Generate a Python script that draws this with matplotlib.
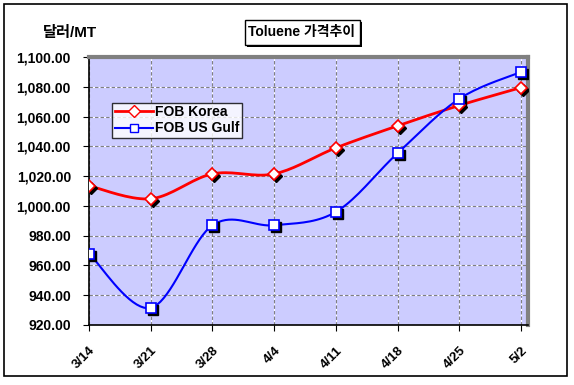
import numpy as np
import matplotlib.pyplot as plt
import matplotlib.transforms as mtransforms
from matplotlib.patches import Rectangle

plt.rcParams['font.family'] = ['Liberation Sans', 'Noto Sans CJK KR', 'DejaVu Sans']

dates = ['3/14', '3/21', '3/28', '4/4', '4/11', '4/18', '4/25', '5/2']
fob_korea = [1013.5, 1004.8, 1021.5, 1021.5, 1039.0, 1053.8, 1067.5, 1079.5]
fob_usgulf = [968.0, 931.5, 987.0, 987.0, 996.0, 1035.5, 1072.0, 1090.0]
yticks = [920, 940, 960, 980, 1000, 1020, 1040, 1060, 1080, 1100]


# smooth line like Excel's "smoothed line" option (Catmull-Rom through the data)
def smooth(xs, ys, n=20):
    xs = np.asarray(xs, float)
    ys = np.asarray(ys, float)
    px = np.concatenate([[xs[0]], xs, [xs[-1]]])
    py = np.concatenate([[ys[0]], ys, [ys[-1]]])
    outx, outy = [], []
    t = np.linspace(0, 1, n)
    for i in range(1, len(px) - 2):
        for p, out in ((px, outx), (py, outy)):
            p0, p1, p2, p3 = p[i - 1], p[i], p[i + 1], p[i + 2]
            out.extend(0.5 * (2 * p1 + (-p0 + p2) * t
                              + (2 * p0 - 5 * p1 + 4 * p2 - p3) * t ** 2
                              + (-p0 + 3 * p1 - 3 * p2 + p3) * t ** 3))
    return outx, outy


fig = plt.figure(figsize=(5.74, 3.85), dpi=100)
ax = fig.add_axes([89 / 574, 1 - 325 / 385, (528 - 89) / 574, (325 - 57) / 385])
ax.set_facecolor('#ccccff')

x = np.arange(len(dates))
shadow = mtransforms.offset_copy(ax.transData, fig=fig, x=2, y=-2, units='dots')

for vals, col, mk, lw, lab in [(fob_korea, '#ff0000', 'D', 2.0, 'FOB Korea'),
                               (fob_usgulf, '#0000ff', 's', 1.5, 'FOB US Gulf')]:
    sx, sy = smooth(x, vals)
    ax.plot(sx, sy, color=col, lw=lw, zorder=3)
    ax.plot(x, vals, linestyle='none', marker=mk, markersize=7 if mk == 's' else 6.5,
            markerfacecolor='black', markeredgecolor='black', transform=shadow, zorder=4)
    ax.plot(x, vals, linestyle='none', marker=mk, markersize=7 if mk == 's' else 6.5,
            markerfacecolor='white', markeredgecolor=col, markeredgewidth=1.2, zorder=5)
    ax.plot([], [], color=col, lw=lw, marker=mk, markersize=6,
            markerfacecolor='white', markeredgecolor=col, label=lab)

ax.set_xlim(0, 7.11)
ax.set_ylim(920, 1100)
ax.set_yticks(yticks)
ax.set_yticklabels([f'{v:,.2f}' for v in yticks], fontsize=10, fontweight='bold')
ax.set_xticks(x)
ax.set_xticklabels(dates, rotation=45, ha='right', rotation_mode='anchor',
                   fontsize=9.5, fontweight='bold')
ax.tick_params(axis='x', length=4, pad=10)
ax.tick_params(axis='y', length=4, pad=9)
ax.grid(True, color='#808080', linestyle=(0, (3, 2)), gapcolor='white', lw=0.8, zorder=1)
ax.set_axisbelow(True)

for s in ('left', 'bottom'):
    ax.spines[s].set_color('black')
    ax.spines[s].set_linewidth(1.2)
for s in ('top', 'right'):
    ax.spines[s].set_color('#808080')
    ax.spines[s].set_linewidth(3)

leg = ax.legend(loc='upper left', bbox_to_anchor=(0.052, 0.83), fontsize=10,
                frameon=True, fancybox=False, borderpad=0.2, handlelength=2.8,
                handletextpad=0.1, labelspacing=0.15, borderaxespad=0)
leg.get_frame().set_edgecolor('black')
leg.get_frame().set_linewidth(1)
for t in leg.get_texts():
    t.set_fontweight('bold')

fig.text(43 / 574, 1 - 33 / 385, '달러/MT', fontsize=11, fontweight='bold', va='center')

# title box with shadow
fig.patches.append(Rectangle((247 / 574, 1 - 47 / 385), 115 / 574, 25 / 385,
                             transform=fig.transFigure, facecolor='black', edgecolor='none'))
fig.patches.append(Rectangle((245 / 574, 1 - 45 / 385), 115 / 574, 25 / 385,
                             transform=fig.transFigure, facecolor='white', edgecolor='black', lw=1))
fig.text(302 / 574, 1 - 32 / 385, 'Toluene 가격추이', fontsize=10, fontweight='bold',
         ha='center', va='center')

# outer chart border
fig.patches.append(Rectangle((4 / 574, 1 - 376 / 385), 563 / 574, 372 / 385,
                             transform=fig.transFigure, facecolor='none', edgecolor='black', lw=1.2))

fig.savefig('out.png', dpi=100)
